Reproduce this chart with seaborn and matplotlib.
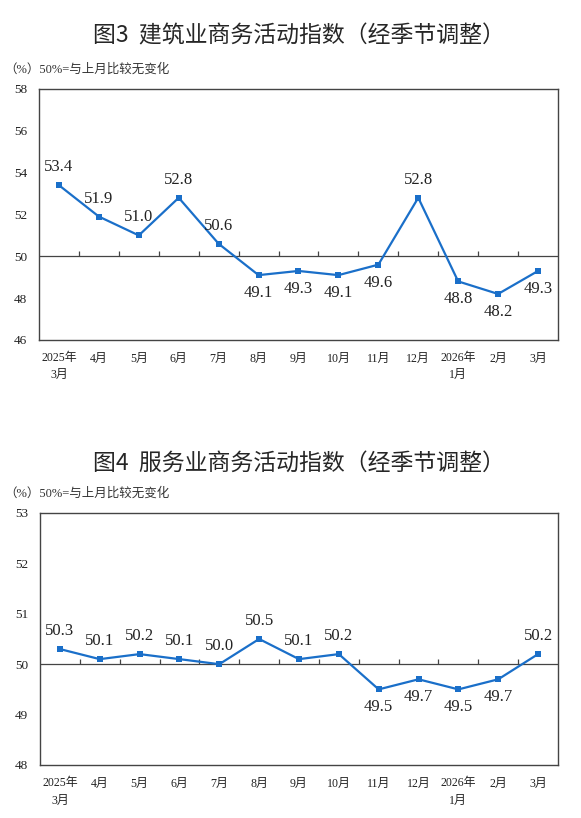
import numpy as np
import pandas as pd
import matplotlib
matplotlib.use("Agg")
import matplotlib.pyplot as plt
import seaborn as sns

# ==========================================================
# Data
# ==========================================================

months = ["2025年\n3月", "4月", "5月", "6月", "7月", "8月", "9月",
          "10月", "11月", "12月", "2026年\n1月", "2月", "3月"]

construction = [53.4, 51.9, 51.0, 52.8, 50.6, 49.1, 49.3,
                49.1, 49.6, 52.8, 48.8, 48.2, 49.3]
construction_pos = ["up", "up", "up", "up", "up", "down", "down",
                    "down", "down", "up", "down", "down", "down"]

services = [50.3, 50.1, 50.2, 50.1, 50.0, 50.5, 50.1,
            50.2, 49.5, 49.7, 49.5, 49.7, 50.2]
services_pos = ["up", "up", "up", "up", "up", "up", "up",
                "up", "down", "down", "down", "down", "up"]

title_top = "图3  建筑业商务活动指数（经季节调整）"
title_bottom = "图4  服务业商务活动指数（经季节调整）"
note = "（%）50%=与上月比较无变化"

sns.set_style("white")
plt.rcParams["font.family"] = ["Liberation Serif", "Noto Sans CJK SC", "DejaVu Sans"]

LINE = "#1a6fc9"
AXIS = "#444444"

fig = plt.figure(figsize=(5.81, 8.18), dpi=100)


def draw_panel(ax, values, pos, ylim, yticks, title, title_y, note_y):
    df = pd.DataFrame({"x": np.arange(len(months)), "y": values})
    sns.lineplot(data=df, x="x", y="y", ax=ax, color=LINE, linewidth=1.6,
                 marker="s", markersize=4.5, markeredgewidth=0,
                 markerfacecolor=LINE)

    ax.set_xlim(-0.5, len(months) - 0.5)
    ax.set_ylim(*ylim)
    ax.set_yticks(yticks)
    ax.set_xticks(df["x"])
    ax.set_xticklabels(months, fontsize=8.6, linespacing=1.55)
    ax.set_xlabel("")
    ax.set_ylabel("")
    ax.tick_params(axis="x", length=0, pad=9, colors="#222222")
    ax.tick_params(axis="y", direction="in", length=4, width=0.8,
                   labelsize=9.5, pad=8.5, colors=AXIS, labelcolor="#222222")

    for s in ax.spines.values():
        s.set_color(AXIS)
        s.set_linewidth(1.0)

    # 50 baseline with category separators
    ax.axhline(50, color=AXIS, linewidth=0.9, zorder=1)
    span = ylim[1] - ylim[0]
    ax.vlines(np.arange(len(months) - 1) + 0.5, 50, 50 + span * 0.02,
              color=AXIS, linewidth=0.9, zorder=1)

    off = span * 0.04
    for i, (v, p) in enumerate(zip(values, pos)):
        if p == "up":
            ax.text(i, v + off, f"{v:.1f}", ha="center", va="bottom",
                    fontsize=12, color="#222222")
        else:
            ax.text(i, v - off, f"{v:.1f}", ha="center", va="top",
                    fontsize=12, color="#222222")

    fig.text(0.515, title_y, title, ha="center", va="center", fontsize=16.5,
             family=["Noto Sans CJK SC", "DejaVu Sans"])
    fig.text(0.008, note_y, note, ha="left", va="center", fontsize=9,
             color="#333333")


ax1 = fig.add_axes([0.0671, 0.5844, 0.8933, 0.3068])
draw_panel(ax1, construction, construction_pos, (46, 58), np.arange(46, 59, 2),
           title_top, 0.956, 0.915)

ax2 = fig.add_axes([0.0688, 0.0648, 0.8916, 0.3081])
draw_panel(ax2, services, services_pos, (48, 53), np.arange(48, 54, 1),
           title_bottom, 0.434, 0.397)

fig.savefig("out.png", dpi=100)
